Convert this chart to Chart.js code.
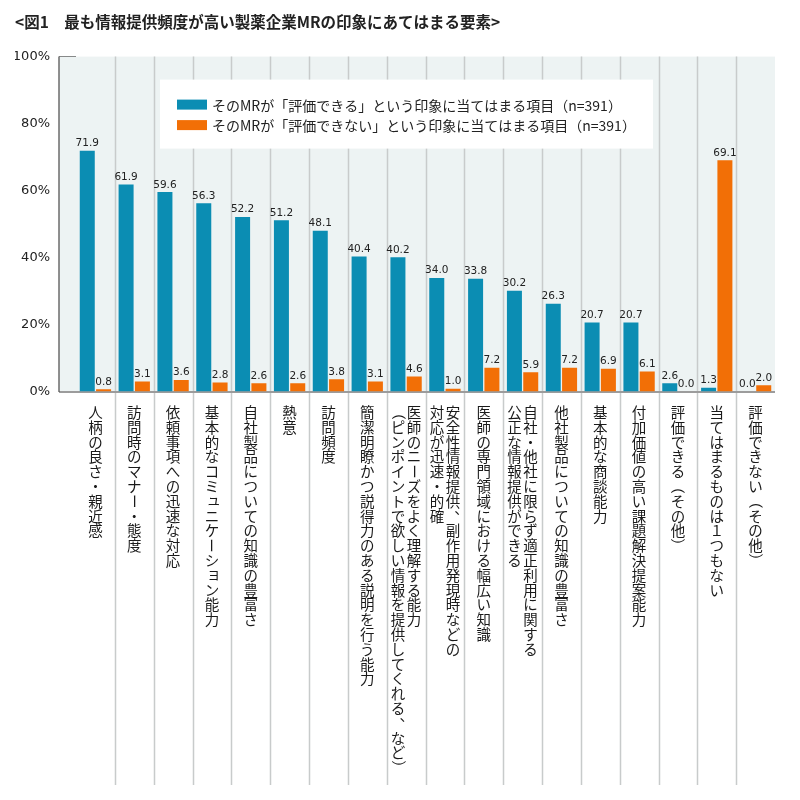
<!DOCTYPE html>
<html>
<head>
<meta charset="utf-8">
<script src="https://cdn.jsdelivr.net/npm/chart.js@4.4.1/dist/chart.umd.min.js"></script>
<style>
html,body{margin:0;padding:0;background:#fff;}
#wrap{width:800px;height:800px;position:relative;}
</style>
</head>
<body>
<div id="wrap"><canvas id="c"></canvas></div>
<script>
const titleText = '<図1　最も情報提供頻度が高い製薬企業MRの印象にあてはまる要素>';
const categories = [
  '人柄の良さ・親近感',
  '訪問時のマナー・態度',
  '依頼事項への迅速な対応',
  '基本的なコミュニケーション能力',
  '自社製品についての知識の豊富さ',
  '熱意',
  '訪問頻度',
  '簡潔明瞭かつ説得力のある説明を行う能力',
  ['医師のニーズをよく理解する能力', '（ピンポイントで欲しい情報を提供してくれる、など）'],
  ['安全性情報提供、副作用発現時などの', '対応が迅速・的確'],
  '医師の専門領域における幅広い知識',
  ['自社・他社に限らず適正利用に関する', '公正な情報提供ができる'],
  '他社製品についての知識の豊富さ',
  '基本的な商談能力',
  '付加価値の高い課題解決提案能力',
  '評価できる（その他）',
  '当てはまるものは１つもない',
  '評価できない（その他）'
];
const seriesLabels = [
  'そのMRが「評価できる」という印象に当てはまる項目（n=391）',
  'そのMRが「評価できない」という印象に当てはまる項目（n=391）'
];
const evalYes = [71.9, 61.9, 59.6, 56.3, 52.2, 51.2, 48.1, 40.4, 40.2, 34.0, 33.8, 30.2, 26.3, 20.7, 20.7, 2.6, 1.3, 0.0];
const evalNo  = [0.8, 3.1, 3.6, 2.8, 2.6, 2.6, 3.8, 3.1, 4.6, 1.0, 7.2, 5.9, 7.2, 6.9, 6.1, 0.0, 69.1, 2.0];
const yTicks = [0, 20, 40, 60, 80, 100];

const BLUE = '#0b8db3';
const ORANGE = '#f26f06';
const AXIS_PAD = 17;

function drawVertical(ctx, text, cx, topY, size, adv) {
  const chars = Array.from(text);
  ctx.font = size + 'px "Noto Sans CJK JP", sans-serif';
  ctx.textAlign = 'center';
  ctx.textBaseline = 'middle';
  let y = topY;
  chars.forEach(ch => {
    const cy = y + adv / 2;
    if (ch === 'ー' || ch === '（' || ch === '）' || ch === '〜') {
      ctx.save();
      ctx.translate(cx, cy);
      ctx.rotate(Math.PI / 2);
      ctx.fillText(ch, 0, 0);
      ctx.restore();
    } else if (ch === '、' || ch === '。') {
      ctx.fillText(ch, cx + size * 0.6, cy - size * 0.55);
    } else if ('ョャュッァィゥェォょゃゅっ'.indexOf(ch) >= 0) {
      ctx.fillText(ch, cx + size * 0.12, cy - size * 0.12);
    } else {
      ctx.fillText(ch, cx, cy);
    }
    y += adv;
  });
}

const customPlugin = {
  id: 'custom',
  beforeDatasetsDraw(chart) {
    const ctx = chart.ctx;
    const {left, right, top, bottom} = chart.chartArea;
    const xs = chart.scales.x;
    const axisX = left - AXIS_PAD;
    ctx.save();
    ctx.fillStyle = '#edf3f3';
    ctx.fillRect(axisX, top, right - axisX, bottom - top);
    ctx.strokeStyle = '#c8cbcb';
    ctx.lineWidth = 1.5;
    for (let i = 1; i < categories.length; i++) {
      const x = Math.round((xs.getPixelForValue(i - 1) + xs.getPixelForValue(i)) / 2) + 0.5;
      ctx.beginPath();
      ctx.moveTo(x, top);
      ctx.lineTo(x, bottom + 393);
      ctx.stroke();
    }
    ctx.strokeStyle = '#9c9c9c';
    ctx.lineWidth = 2;
    ctx.beginPath();
    ctx.moveTo(axisX, bottom);
    ctx.lineTo(right, bottom);
    ctx.stroke();
    ctx.strokeStyle = '#555';
    ctx.lineWidth = 1.3;
    ctx.beginPath();
    ctx.moveTo(axisX, top);
    ctx.lineTo(axisX, bottom);
    ctx.stroke();
    ctx.restore();
  },
  afterDatasetsDraw(chart) {
    const ctx = chart.ctx;
    const {left, top, bottom} = chart.chartArea;
    const xs = chart.scales.x;
    ctx.save();
    // value labels
    ctx.font = '10.5px "DejaVu Sans", sans-serif';
    ctx.fillStyle = '#222';
    ctx.textAlign = 'center';
    ctx.textBaseline = 'bottom';
    chart.data.datasets.forEach((ds, di) => {
      const meta = chart.getDatasetMeta(di);
      meta.data.forEach((bar, i) => {
        ctx.fillText(ds.data[i].toFixed(1), bar.x, bar.y - 2);
      });
    });
    // legend box
    const lx = left + 84, ly = top + 23, lw = 493, lh = 69;
    ctx.fillStyle = '#ffffff';
    ctx.fillRect(lx, ly, lw, lh);
    ctx.font = '14px "Noto Sans CJK JP", sans-serif';
    ctx.textAlign = 'left';
    ctx.textBaseline = 'middle';
    chart.data.datasets.forEach((ds, di) => {
      const cy = ly + 25 + di * 20.5;
      ctx.fillStyle = ds.backgroundColor;
      ctx.fillRect(lx + 17, cy - 5, 30, 10);
      ctx.fillStyle = '#222';
      ctx.fillText(ds.label, lx + 52, cy + 1);
    });
    // category labels (vertical writing)
    ctx.fillStyle = '#1a1a1a';
    categories.forEach((lab, i) => {
      const cx = xs.getPixelForValue(i);
      const lines = Array.isArray(lab) ? lab : [lab];
      const n = lines.length;
      lines.forEach((ln, k) => {
        const x = cx + ((n - 1) / 2 - k) * 16;
        drawVertical(ctx, ln, x, bottom + 13, 14.5, 14.8);
      });
    });
    ctx.restore();
  }
};

new Chart(document.getElementById('c'), {
  type: 'bar',
  data: {
    labels: categories,
    datasets: [
      { label: seriesLabels[0], data: evalYes, backgroundColor: BLUE, categoryPercentage: 0.84, barPercentage: 0.92 },
      { label: seriesLabels[1], data: evalNo, backgroundColor: ORANGE, categoryPercentage: 0.84, barPercentage: 0.92 }
    ]
  },
  options: {
    responsive: true,
    maintainAspectRatio: false,
    animation: false,
    devicePixelRatio: 1,
    layout: { padding: { left: 15, right: 25, top: 0, bottom: 408 } },
    plugins: {
      legend: { display: false },
      tooltip: { enabled: false },
      title: {
        display: true,
        text: titleText,
        align: 'start',
        color: '#222',
        font: { family: '"Noto Sans CJK JP", sans-serif', size: 15.5, weight: 'bold' },
        padding: { top: 13, bottom: 25 }
      }
    },
    scales: {
      x: {
        type: 'category',
        display: false,
        grid: { display: false }
      },
      y: {
        min: 0,
        max: 100,
        afterFit: (s) => { s.width = 61; },
        afterBuildTicks: (s) => { s.ticks = yTicks.map(v => ({ value: v })); },
        ticks: {
          callback: (v) => v + '%',
          color: '#222',
          padding: 9,
          font: { family: '"DejaVu Sans", sans-serif', size: 13 }
        },
        grid: { drawOnChartArea: false, drawTicks: true, tickLength: AXIS_PAD, color: '#444', lineWidth: 1.3 },
        border: { display: false }
      }
    }
  },
  plugins: [customPlugin]
});
</script>
</body>
</html>
